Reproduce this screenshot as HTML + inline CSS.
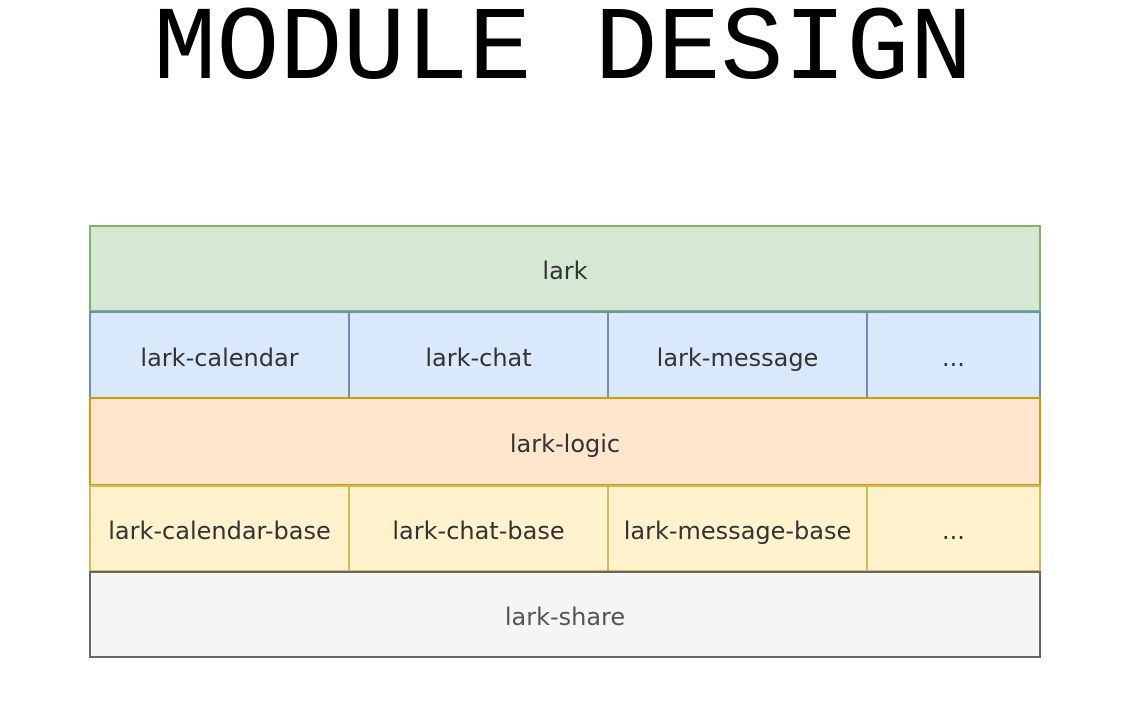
<!DOCTYPE html>
<html><head><meta charset="utf-8"><style>
html,body{margin:0;padding:0;background:#fff;width:1126px;height:716px;overflow:hidden;position:relative}
.t{position:absolute;left:0;width:1126px;top:-9px;text-align:center;font-family:"Liberation Mono",monospace;font-size:105px;line-height:120px;color:#000;padding-right:0px;box-sizing:border-box}
.b{position:absolute;box-sizing:border-box;display:flex;align-items:center;justify-content:center;font-family:"DejaVu Sans","Liberation Sans",sans-serif;font-size:24px;color:#333;padding-top:5px}
</style></head><body>
<div class="t">MODULE DESIGN</div>
<div class="b" style="left:89px;top:225px;width:952px;height:87px;background:#d5e8d4;border:2px solid #82b366">lark</div>
<div class="b" style="left:89px;top:311px;width:261px;height:88px;background:#dae8fc;border:2px solid #6c8ebf">lark-calendar</div>
<div class="b" style="left:348px;top:311px;width:261px;height:88px;background:#dae8fc;border:2px solid #6c8ebf">lark-chat</div>
<div class="b" style="left:607px;top:311px;width:261px;height:88px;background:#dae8fc;border:2px solid #6c8ebf">lark-message</div>
<div class="b" style="left:866px;top:311px;width:175px;height:88px;background:#dae8fc;border:2px solid #6c8ebf">...</div>
<div class="b" style="left:89px;top:397px;width:952px;height:89px;background:#ffe6cc;border:2px solid #d79b00">lark-logic</div>
<div class="b" style="left:89px;top:485px;width:261px;height:87px;background:#fff2cc;border:2px solid #d6b656">lark-calendar-base</div>
<div class="b" style="left:348px;top:485px;width:261px;height:87px;background:#fff2cc;border:2px solid #d6b656">lark-chat-base</div>
<div class="b" style="left:607px;top:485px;width:261px;height:87px;background:#fff2cc;border:2px solid #d6b656">lark-message-base</div>
<div class="b" style="left:866px;top:485px;width:175px;height:87px;background:#fff2cc;border:2px solid #d6b656">...</div>
<div class="b" style="left:89px;top:571px;width:952px;height:87px;background:#f5f5f5;border:2px solid #666;color:#555">lark-share</div>
</body></html>
